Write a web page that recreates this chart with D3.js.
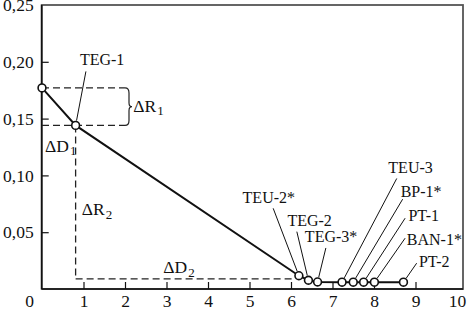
<!DOCTYPE html>
<html>
<head>
<meta charset="utf-8">
<script src="https://cdn.jsdelivr.net/npm/d3@7"></script>
<style>
  body { margin: 0; background: #fff; }
  svg text { font-family: 'Liberation Serif', serif; fill: #111; }
</style>
</head>
<body>
<script>
// data
var names = ['', 'TEG-1', 'TEU-2*', 'TEG-2', 'TEG-3*', 'TEU-3', 'BP-1*', 'PT-1', 'BAN-1*', 'PT-2'];
var xs = [0, 0.81, 6.19, 6.42, 6.64, 7.23, 7.50, 7.75, 8.01, 8.71];
var ys = [0.177, 0.144, 0.0117, 0.0077, 0.0062, 0.006, 0.006, 0.006, 0.006, 0.006];
var xTicks = [0, 1, 2, 3, 4, 5, 6, 7, 8, 9, 10];
var yTicks = [0.05, 0.10, 0.15, 0.20, 0.25];
var dLevel = 0.009;   // level of the lower dashed guide
var dEnd = 6.05;      // where that guide stops
var braceX = 2.0;

// callout placement: leader end and text start, in px relative to the point
var callouts = [
  null,
  {lx: 10.3, ly: -54, tx: 4.3, ty: -60.7},
  {lx: -25.7, ly: -67.4, tx: -56.3, ty: -72.4},
  {lx: -11.6, ly: -48.6, tx: -21, ty: -54.3},
  {lx: 8.3, ly: -34, tx: -12.7, ty: -40.3},
  {lx: 54.7, ly: -103.7, tx: 46.3, ty: -108.7},
  {lx: 49.4, ly: -83, tx: 47.4, ty: -85.3},
  {lx: 41.5, ly: -64, tx: 44.8, ty: -61.3},
  {lx: 30.7, ly: -44, tx: 32.4, ty: -37},
  {lx: 13.2, ly: -19, tx: 15.5, ty: -15.3}
];

var width = 468, height = 310;
var pLeft = 41.7, pRight = 463, pTop = 5, pBottom = 289;
var serif = "'Liberation Serif', serif";

var x = d3.scaleLinear().domain([0, 10]).range([42, 457]);
var y = d3.scaleLinear().domain([0, 0.25]).range([pBottom, pTop]);

var svg = d3.select('body').append('svg')
    .attr('width', width)
    .attr('height', height);

// frame
svg.append('rect')
    .attr('x', pLeft).attr('y', pTop)
    .attr('width', pRight - pLeft).attr('height', pBottom - pTop)
    .style('fill', 'none').style('stroke', '#555').style('stroke-width', 1.8);

// axes, ticks pointing inwards
var xAxis = svg.append('g')
    .attr('transform', 'translate(0,' + pBottom + ')')
    .attr('font-family', serif)
    .call(d3.axisBottom(x).tickValues(xTicks).tickSize(-7).tickPadding(6)
      .tickFormat(d3.format('d')));
xAxis.select('.domain').remove();
xAxis.selectAll('.tick line')
    .style('stroke', '#111').style('stroke-width', 1.2)
    .style('display', function(d) { return (d === 0 || d === 10) ? 'none' : null; });
xAxis.selectAll('.tick text')
    .style('font-size', '17.5px').style('font-family', serif).style('fill', '#111')
    .attr('dx', function(d) { return d === 0 ? -13 : 0; });

var yAxis = svg.append('g')
    .attr('transform', 'translate(' + pLeft + ',0)')
    .attr('font-family', serif)
    .call(d3.axisLeft(y).tickValues(yTicks).tickSize(-7).tickPadding(8)
      .tickFormat(function(d) { return d3.format('.2f')(d).replace('.', ','); }));
yAxis.select('.domain').remove();
yAxis.selectAll('.tick line')
    .style('stroke', '#111').style('stroke-width', 1.2)
    .style('display', function(d) { return d === 0.25 ? 'none' : null; });
yAxis.selectAll('.tick text')
    .style('font-size', '17.5px').style('font-family', serif).style('fill', '#111');

svg.append('line').attr('x1', pLeft).attr('x2', pLeft).attr('y1', pTop).attr('y2', pBottom)
    .style('stroke', '#111').style('stroke-width', 1.6);
svg.append('line').attr('x1', pLeft).attr('x2', pRight).attr('y1', pBottom).attr('y2', pBottom)
    .style('stroke', '#111').style('stroke-width', 1.6);

// dashed guides
var guides = [
  [[0, ys[0]], [braceX, ys[0]]],
  [[0, ys[1]], [braceX, ys[1]]],
  [[xs[1], ys[1]], [xs[1], dLevel]],
  [[xs[1], dLevel], [dEnd, dLevel]]
];
svg.append('g').selectAll('line')
    .data(guides)
  .enter().append('line')
    .attr('x1', function(d) { return x(d[0][0]); })
    .attr('y1', function(d) { return y(d[0][1]); })
    .attr('x2', function(d) { return x(d[1][0]); })
    .attr('y2', function(d) { return y(d[1][1]); })
    .style('stroke', '#222').style('stroke-width', 1.3)
    .style('stroke-dasharray', '7,4');

// curly brace for dR1
var bx = x(braceX), b1 = y(ys[0]), b2 = y(ys[1]), bm = (b1 + b2) / 2;
svg.append('path')
    .attr('d', 'M' + bx + ',' + b1 +
      ' Q' + (bx + 4) + ',' + b1 + ' ' + (bx + 4) + ',' + (b1 + 5) +
      ' L' + (bx + 4) + ',' + (bm - 4) +
      ' Q' + (bx + 4) + ',' + bm + ' ' + (bx + 7) + ',' + bm +
      ' Q' + (bx + 4) + ',' + bm + ' ' + (bx + 4) + ',' + (bm + 4) +
      ' L' + (bx + 4) + ',' + (b2 - 5) +
      ' Q' + (bx + 4) + ',' + b2 + ' ' + bx + ',' + b2)
    .style('fill', 'none').style('stroke', '#222').style('stroke-width', 1.2);

// main curve
var pts = xs.map(function(d, i) { return {x: d, y: ys[i], name: names[i], c: callouts[i]}; });
svg.append('path')
    .datum(pts)
    .attr('d', d3.line().x(function(d) { return x(d.x); }).y(function(d) { return y(d.y); }))
    .style('fill', 'none').style('stroke', '#111').style('stroke-width', 2);

// leaders, stopped at the circle edge
var r = 3.9;
var labelled = pts.filter(function(d) { return d.c; });
svg.append('g').selectAll('line')
    .data(labelled)
  .enter().append('line')
    .attr('x1', function(d) { return x(d.x) + d.c.lx; })
    .attr('y1', function(d) { return y(d.y) + d.c.ly; })
    .attr('x2', function(d) { var l = Math.hypot(d.c.lx, d.c.ly); return x(d.x) + d.c.lx / l * (r + 1); })
    .attr('y2', function(d) { var l = Math.hypot(d.c.lx, d.c.ly); return y(d.y) + d.c.ly / l * (r + 1); })
    .style('stroke', '#111').style('stroke-width', 1);

svg.append('g').selectAll('circle')
    .data(pts)
  .enter().append('circle')
    .attr('cx', function(d) { return x(d.x); })
    .attr('cy', function(d) { return y(d.y); })
    .attr('r', r)
    .style('fill', '#fff').style('stroke', '#111').style('stroke-width', 1.6);

svg.append('g').selectAll('text')
    .data(labelled)
  .enter().append('text')
    .attr('x', function(d) { return x(d.x) + d.c.tx; })
    .attr('y', function(d) { return y(d.y) + d.c.ty; })
    .style('font-family', serif)
    .style('font-size', '16px')
    .text(function(d) { return d.name; });

// delta annotations
var deltas = [
  {main: 'ΔR', sub: '1', x: 133.3, y: 111.7},
  {main: 'ΔD', sub: '1', x: 45, y: 151.7},
  {main: 'ΔR', sub: '2', x: 81.7, y: 215},
  {main: 'ΔD', sub: '2', x: 163.3, y: 273.3}
];
var dt = svg.append('g').selectAll('text')
    .data(deltas)
  .enter().append('text')
    .attr('x', function(d) { return d.x; })
    .attr('y', function(d) { return d.y; })
    .style('font-family', serif)
    .style('font-size', '17.5px');
dt.append('tspan').text(function(d) { return d.main; });
dt.append('tspan')
    .attr('dx', 1).attr('dy', 3.5)
    .style('font-size', '13px')
    .text(function(d) { return d.sub; });
</script>
</body>
</html>
